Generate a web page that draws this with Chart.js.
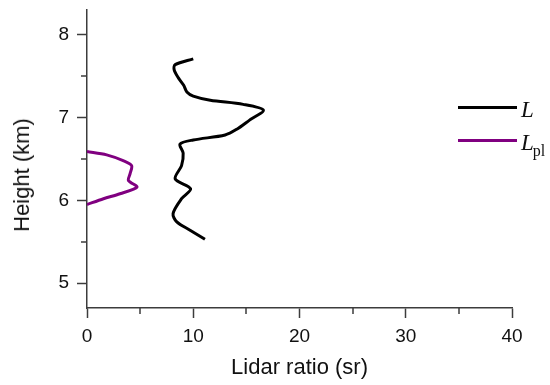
<!DOCTYPE html>
<html lang="en">
<head>
  <meta charset="UTF-8">
  <title>Lidar ratio profile</title>
  <script src="https://cdn.jsdelivr.net/npm/chart.js"></script>
  <style>
    html, body { margin: 0; padding: 0; background: #fff; }
    #wrap { position: relative; width: 550px; height: 385px; }
    #ytitle {
      position: absolute; left: 22px; top: 175px;
      transform: translate(-50%, -50%) rotate(-90deg);
      font: 22px "Liberation Sans", Arial, sans-serif; color: #111; white-space: nowrap;
    }
    .leg { position: absolute; left: 458px; height: 0; }
    .leg .ln { position: absolute; left: 0; top: -1.5px; width: 59px; height: 3px; }
    .leg .tx {
      position: absolute; left: 63px; top: -10px; line-height: 23px;
      font: italic 23px "Liberation Serif", "Times New Roman", serif; color: #111; white-space: nowrap;
    }
    .leg sub { font-style: normal; font-size: 16px; vertical-align: -6px; line-height: 0; margin-left: -1px; }
  </style>
</head>
<body>
  <div id="wrap">
    <canvas id="graphCanvas" width="550" height="385"></canvas>
    <div id="ytitle">Height (km)</div>
    <div class="leg" style="top:107px"><div class="ln" style="background:#000"></div><div class="tx">L</div></div>
    <div class="leg" style="top:140px"><div class="ln" style="background:#800080"></div><div class="tx">L<sub>pl</sub></div></div>
  </div>

  <script>
    // L profile (lidar ratio in sr vs height in km)
    const lRatio = [10.0, 8.3, 8.2, 8.6, 9.1, 9.4, 10.0, 11.6, 14.7, 16.6, 15.3, 14.1, 13.0, 10.0, 8.75, 9.05, 8.9, 8.3, 9.75, 8.9, 8.1, 8.45, 9.7, 11.1];
    const lHeight = [7.71, 7.64, 7.58, 7.48, 7.39, 7.31, 7.26, 7.21, 7.16, 7.09, 6.97, 6.86, 6.79, 6.73, 6.68, 6.57, 6.42, 6.26, 6.14, 6.02, 5.84, 5.74, 5.64, 5.53];

    // L_pl profile
    const plRatio = [0, 1.85, 3.4, 4.2, 4.05, 3.9, 4.7, 3.1, 1.55, 0];
    const plHeight = [6.59, 6.55, 6.48, 6.42, 6.32, 6.24, 6.16, 6.08, 6.02, 5.95];

    const xTicks = [0, 10, 20, 30, 40];
    const xMinor = [5, 15, 25, 35];
    const yTicks = [5, 6, 7, 8];
    const yMinor = [5.5, 6.5, 7.5];

    const axisColor = '#3c3c3c';
    const tickFont = { family: '"Liberation Sans", Arial, sans-serif', size: 19 };

    const toPoints = (xs, ys) => xs.map((x, i) => ({ x: x, y: ys[i] }));

    // short minor ticks, placed through the scales
    const minorTicks = {
      id: 'minorTicks',
      afterDraw(chart) {
        const ctx = chart.ctx;
        const xs = chart.scales.x, ys = chart.scales.y;
        const area = chart.chartArea;
        ctx.save();
        ctx.strokeStyle = axisColor;
        ctx.lineWidth = 1.5;
        ctx.beginPath();
        xMinor.forEach(v => {
          const px = Math.round(xs.getPixelForValue(v));
          ctx.moveTo(px, area.bottom);
          ctx.lineTo(px, area.bottom + 6);
        });
        yMinor.forEach(v => {
          const py = Math.round(ys.getPixelForValue(v));
          ctx.moveTo(area.left, py);
          ctx.lineTo(area.left - 6, py);
        });
        ctx.stroke();
        ctx.restore();
      }
    };

    const ctx = document.getElementById('graphCanvas').getContext('2d');
    new Chart(ctx, {
      type: 'scatter',
      data: {
        datasets: [
          { label: 'L', data: toPoints(lRatio, lHeight), showLine: true, borderColor: '#000', borderWidth: 3, pointRadius: 0, tension: 0.3 },
          { label: 'Lpl', data: toPoints(plRatio, plHeight), showLine: true, borderColor: '#800080', borderWidth: 3, pointRadius: 0, tension: 0.3 }
        ]
      },
      options: {
        responsive: false,
        animation: false,
        layout: { padding: { top: 10, right: 38, left: 0, bottom: 0 } },
        plugins: { legend: { display: false }, tooltip: { enabled: false } },
        scales: {
          x: {
            type: 'linear', min: 0, max: 40,
            afterBuildTicks: s => { s.ticks = xTicks.map(v => ({ value: v })); },
            afterFit: s => { s.height = 77; },
            grid: { drawOnChartArea: false, tickLength: 10, tickColor: axisColor, tickWidth: 1.5 },
            border: { color: axisColor, width: 1.5 },
            ticks: { font: tickFont, color: '#111', padding: 7, maxRotation: 0 },
            title: { display: true, text: 'Lidar ratio (sr)', font: { family: '"Liberation Sans", Arial, sans-serif', size: 22 }, color: '#111', padding: { top: 0, bottom: 4 } }
          },
          y: {
            type: 'linear', min: 4.7, max: 8.3,
            afterBuildTicks: s => { s.ticks = yTicks.map(v => ({ value: v })); },
            afterFit: s => { s.width = 87; s.paddingTop = 0; s.paddingBottom = 0; },
            grid: { drawOnChartArea: false, tickLength: 10, tickColor: axisColor, tickWidth: 1.5 },
            border: { color: axisColor, width: 1.5 },
            ticks: { font: tickFont, color: '#111', padding: 8 }
          }
        }
      },
      plugins: [minorTicks]
    });
  </script>
</body>
</html>
